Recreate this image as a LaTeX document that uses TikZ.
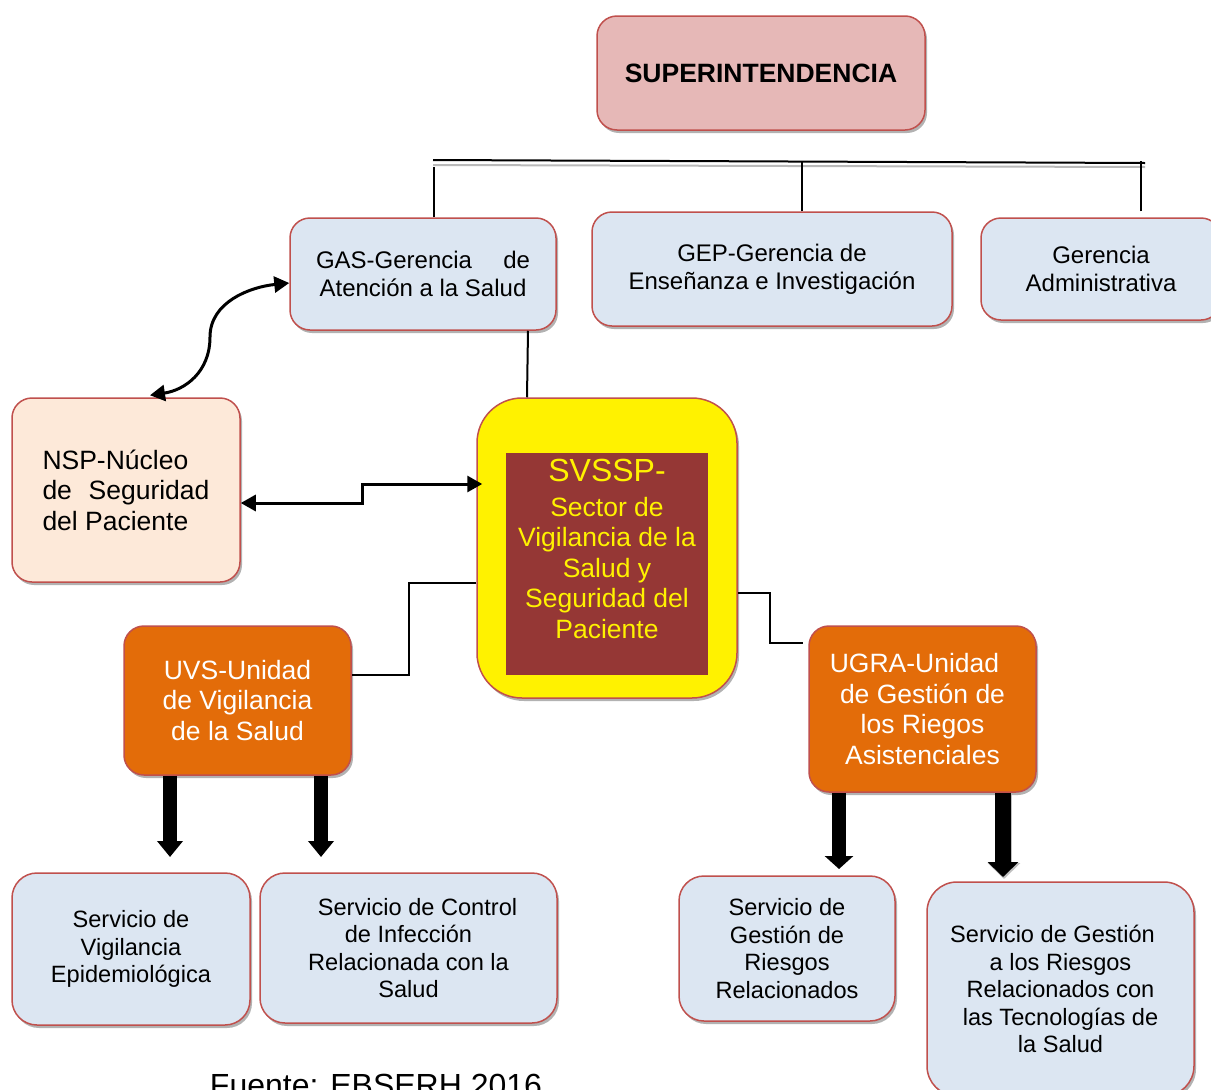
\documentclass[tikz,border=0pt]{standalone}
\usepackage{fontspec}
\setmainfont{Liberation Sans}
\usetikzlibrary{shadows,arrows.meta}
\definecolor{bord}{HTML}{C0504D}
\definecolor{supf}{HTML}{E6B8B7}
\definecolor{bluef}{HTML}{DCE6F2}
\definecolor{peachf}{HTML}{FDE9D9}
\definecolor{orf}{HTML}{E36C09}
\definecolor{dred}{HTML}{953735}
\begin{document}
\begin{tikzpicture}[x=1pt,y=-1pt,
  box/.style={draw=bord, line width=1.5pt, rounded corners=20pt,
    drop shadow={shadow xshift=2pt,shadow yshift=-3pt,fill=black,opacity=0.3},
    align=center, inner sep=0pt},
  ftxt/.style={font=\fontsize{24}{28}\selectfont},
  fbig/.style={font=\fontsize{26.5}{30.5}\selectfont},
  fsmall/.style={font=\fontsize{23.6}{27.5}\selectfont},
  conn/.style={line width=2pt},
  medarrow/.style={line width=3pt, {Triangle[width=16pt,length=15pt]}-{Triangle[width=16pt,length=15pt]}},
  fatarrow/.style={line width=14pt, -{Triangle[width=25pt,length=16pt]}}
]
\useasboundingbox (0,0) rectangle (1211,1090);
\fill[white] (0,0) rectangle (1211,1090);
\clip (0,0) rectangle (1211,1090);

% boxes
\node[box, fill=supf, minimum width=328pt, minimum height=114pt,
  font=\bfseries\fontsize{26.5}{30}\selectfont] (sup) at (761,73) {SUPERINTENDENCIA};

\node[box, fill=bluef, ftxt, minimum width=266pt, minimum height=112pt] (gas) at (423,274)
  {\hbox to 214pt{GAS-Gerencia\hfill de}\\Atención a la Salud};
\node[box, fill=bluef, ftxt, minimum width=360pt, minimum height=114pt] (gep) at (772,269)
  {GEP-Gerencia de\\Enseñanza e Investigación};
\node[box, fill=bluef, ftxt, minimum width=240pt, minimum height=102pt] (adm) at (1101,269)
  {Gerencia\\Administrativa};

\node[box, fill=peachf, fbig, align=left, minimum width=228pt, minimum height=184pt] (nsp) at (126,490)
  {NSP-Núcleo\\\hbox to 167pt{de\hfill Seguridad}\\del Paciente};

\node[box, fill=yellow, rounded corners=45pt, minimum width=260pt, minimum height=300pt] (svssp) at (607,548) {};
\node[fill=dred, minimum width=202pt, minimum height=222pt, inner sep=0pt] (svin) at (607,564) {};
\node[fbig, text=yellow, align=center, inner sep=0pt] (svtext) at (607,549)
  {{\fontsize{32}{34}\selectfont SVSSP-}\\[4pt]Sector de\\Vigilancia de la\\Salud y\\Seguridad del\\Paciente};

\node[box, fill=orf, text=white, fbig, minimum width=227pt, minimum height=149pt] (uvs) at (237.5,700.5)
  {UVS-Unidad\\de Vigilancia\\de la Salud};
\node[box, fill=orf, text=white, fbig, minimum width=227pt, minimum height=166pt] (ugra) at (922.5,709)
  {\hspace*{-16pt}UGRA-Unidad\\de Gestión de\\los Riegos\\Asistenciales};

\node[box, fill=bluef, fsmall, rounded corners=25pt, minimum width=238pt, minimum height=152pt] (b1) at (131,949)
  {Servicio de\\Vigilancia\\Epidemiológica};
\node[box, fill=bluef, fsmall, rounded corners=25pt, minimum width=297pt, minimum height=150pt] (b2) at (408.5,948)
  {\hspace*{18pt}Servicio de Control\\de Infección\\Relacionada con la\\Salud};
\node[box, fill=bluef, fsmall, rounded corners=25pt, minimum width=216pt, minimum height=145pt] (b3) at (787,948.5)
  {Servicio de\\Gestión de\\Riesgos\\Relacionados};
\node[box, fill=bluef, fsmall, rounded corners=30pt, minimum width=267pt, minimum height=214pt] (b4) at (1060.5,989)
  {\hspace*{-16pt}Servicio de Gestión\\a los Riesgos\\Relacionados con\\las Tecnologías de\\la Salud};

\node[anchor=base, font=\fontsize{32}{38}\selectfont, inner sep=0pt] (src) at (376,1096) {Fuente: EBSERH 2016};

% top bar
\coordinate (hl) at (433,160);
\coordinate (hr) at (1145,163);
\draw[line width=2pt, gray!55] ([yshift=-5pt]hl) -- ([yshift=-4pt]hr);
\draw[line width=2pt] (hl) -- (hr);
\draw[conn] ([xshift=11pt]gas.north) -- ++(0,-50);
\draw[conn] ([xshift=30pt]gep.north) -- ++(0,-50);
\draw[conn] ([xshift=40pt,yshift=6pt]adm.north) -- ++(0,-50);

% connectors
\draw[conn] ([xshift=105pt]gas.south) -- ([xshift=-80pt]svssp.north);
\draw[medarrow] ([xshift=24pt,yshift=2pt]nsp.north) .. controls (185,390) and (210,372) .. (210,337)
  .. controls (210,302) and (250,287) .. ([yshift=-9pt]gas.west);
\draw[medarrow] ([yshift=-13pt]nsp.east) -- ++(122,0) |- ([xshift=6pt,yshift=64pt]svssp.west);
\draw[conn] ([yshift=-35pt]svssp.west) -- ++(-67,0) |- ([yshift=25.5pt]uvs.east);
\draw[conn] ([yshift=-45pt]svssp.east) -- ++(32,0) |- ([xshift=-5pt,yshift=66pt]ugra.west);

% fat arrows
\coordinate (a1) at (170,857);
\coordinate (a2) at (321,857);
\coordinate (a3) at (839,869);
\coordinate (a4) at (1003,877);
\draw[fatarrow] (uvs.south -| a1) -- (a1);
\draw[fatarrow] (uvs.south -| a2) -- (a2);
\draw[fatarrow, -{Triangle[width=28pt,length=13pt]}] (ugra.south -| a3) -- (a3);
\draw[line width=16pt, gray!50, -{Triangle[width=32pt,length=16pt]}] ([xshift=1pt,yshift=-2pt]ugra.south -| a4) -- ([xshift=1pt,yshift=-2pt]a4);
\draw[line width=16pt, -{Triangle[width=30pt,length=15pt]}] (ugra.south -| a4) -- (a4);
\end{tikzpicture}
\end{document}
